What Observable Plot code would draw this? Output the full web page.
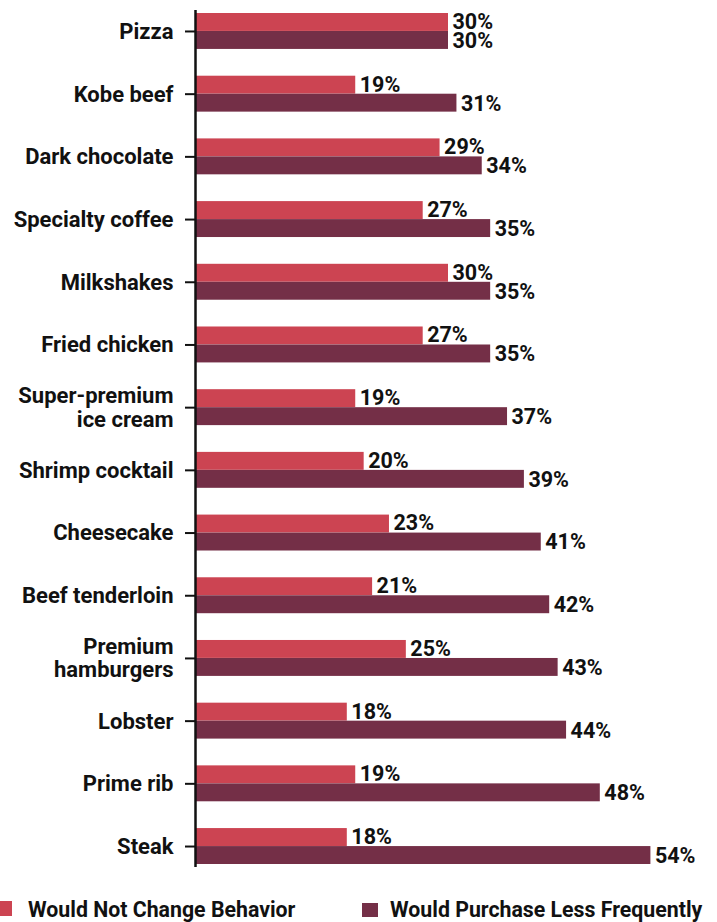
<!DOCTYPE html>
<html>
<head>
<meta charset="utf-8">
<script src="https://cdn.jsdelivr.net/npm/d3@7"></script>
<script src="https://cdn.jsdelivr.net/npm/@observablehq/plot@0.6"></script>
<style>
  html, body { margin: 0; padding: 0; background: #fff; }
  #wrap { position: relative; width: 717px; height: 922px; overflow: hidden;
    font-family: Roboto, "Liberation Sans", sans-serif; font-weight: bold; }
  .sw { position: absolute; }
  .lt { position: absolute; font-size: 21.3px; line-height: 22px; color: #111; white-space: nowrap; }
</style>
</head>
<body>
<div id="wrap"></div>
<script>
const categories = ["Pizza", "Kobe beef", "Dark chocolate", "Specialty coffee", "Milkshakes", "Fried chicken",
  "Super-premium\nice cream", "Shrimp cocktail", "Cheesecake", "Beef tenderloin", "Premium\nhamburgers",
  "Lobster", "Prime rib", "Steak"];
const notChange = [30, 19, 29, 27, 30, 27, 19, 20, 23, 21, 25, 18, 19, 18];
const lessFreq  = [30, 31, 34, 35, 35, 35, 37, 39, 41, 42, 43, 44, 48, 54];
const seriesNames = ["Would Not Change Behavior", "Would Purchase Less Frequently"];
const colors = ["#cc4452", "#742f47"];

const rowsA = categories.map((c, i) => ({cat: c, v: notChange[i]}));
const rowsB = categories.map((c, i) => ({cat: c, v: lessFreq[i]}));

const font = "Roboto, 'Liberation Sans', sans-serif";

const chart = Plot.plot({
  width: 717,
  height: 890,
  marginLeft: 195,
  marginRight: 16,
  marginTop: 10,
  marginBottom: 23,
  style: {fontFamily: font, fontWeight: "bold", fontSize: "22px", color: "#111", background: "#fff"},
  x: {domain: [0, 60], axis: null},
  y: {domain: categories, paddingInner: 0.427, paddingOuter: 0.048, round: false, label: null},
  marks: [
    Plot.barX(rowsA, {x: "v", y: "cat", fill: colors[0], insetBottom: 18}),
    Plot.barX(rowsB, {x: "v", y: "cat", fill: colors[1], insetTop: 18}),
    Plot.text(rowsA, {x: "v", y: "cat", text: d => d.v + "%", dy: -9.5, dx: 4, textAnchor: "start", fill: "#111", fontSize: 21.5, fontWeight: "bold"}),
    Plot.text(rowsB, {x: "v", y: "cat", text: d => d.v + "%", dy: 9.5, dx: 4, textAnchor: "start", fill: "#111", fontSize: 21.5, fontWeight: "bold"}),
    Plot.axisY({tickSize: 10, tickPadding: 12, fontSize: 22, fontWeight: "bold", strokeWidth: 2, stroke: "#111", fill: "#111", label: null, lineHeight: 1.05}),
    Plot.ruleX([0], {stroke: "#111", strokeWidth: 2.5})
  ]
});

const wrap = document.getElementById("wrap");
wrap.appendChild(chart);
chart.style.position = "absolute";
chart.style.left = "0";
chart.style.top = "0";

// Legend (HTML, below the SVG)
const legendSpec = [
  {name: seriesNames[0], color: colors[0], sx: 0, sy: 901, sw: 12, sh: 15, tx: 28, ty: 899},
  {name: seriesNames[1], color: colors[1], sx: 362, sy: 903, sw: 16, sh: 14, tx: 390, ty: 899}
];
for (const l of legendSpec) {
  const s = document.createElement("div");
  s.className = "sw";
  Object.assign(s.style, {left: l.sx + "px", top: l.sy + "px", width: l.sw + "px", height: l.sh + "px", background: l.color});
  wrap.appendChild(s);
  const t = document.createElement("div");
  t.className = "lt";
  Object.assign(t.style, {left: l.tx + "px", top: l.ty + "px"});
  t.textContent = l.name;
  wrap.appendChild(t);
}
</script>
</body>
</html>
